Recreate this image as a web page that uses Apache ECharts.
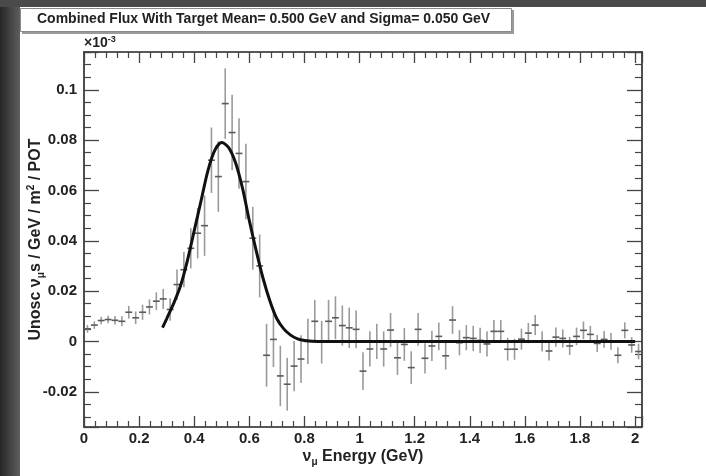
<!DOCTYPE html>
<html>
<head>
<meta charset="utf-8">
<title>Combined Flux</title>
<script src="https://cdn.jsdelivr.net/npm/echarts@6/dist/echarts.min.js"></script>
<style>
    html, body { margin: 0; padding: 0; background: #ffffff; }
    #flux-chart { width: 706px; height: 476px; }
</style>
</head>
<body>
<div id="flux-chart"></div>
<script>
// histogram binning (GeV)
var binStart = 0;
var binWidth = 0.025;

// measured flux per bin (x10^-3 units as drawn on the axis)
var fluxValues = [
    0.005, 0.0065, 0.0083, 0.0087, 0.0084, 0.008, 0.0116, 0.0094, 0.0116, 0.0137,
    0.016, 0.0169, 0.0127, 0.0226, 0.0285, 0.037, 0.043, 0.046, 0.072, 0.0655,
    0.0945, 0.083, 0.0747, 0.0635, 0.041, 0.030, -0.0055, 0.0008, -0.0137, -0.017,
    -0.0098, -0.007, 0.0, 0.008, -0.0003, 0.008, 0.0094, 0.0063, 0.0054, 0.0048,
    -0.0118, -0.003, 0.0, -0.003, 0.0045, -0.0065, -0.0012, -0.0104, 0.0048, -0.0067,
    -0.0018, 0.002, -0.0057, 0.0085, -0.0005, 0.0015, 0.0012, 0.0004, -0.001, 0.004,
    0.004, -0.0031, -0.0031, 0.0009, 0.0033, 0.0065, 0.0, -0.0038, 0.0017, 0.0012,
    -0.0018, 0.002, 0.0044, 0.0028, -0.0008, 0.0008, 0.0, -0.0055, 0.0044, -0.0014,
    -0.004
];

// half length of the error bar per bin
var fluxErrors = [
    0.0015, 0.0015, 0.0015, 0.0015, 0.0017, 0.002, 0.0025, 0.0025, 0.003, 0.003,
    0.0035, 0.004, 0.0045, 0.006, 0.007, 0.008, 0.010, 0.012, 0.013, 0.014,
    0.014, 0.015, 0.014, 0.015, 0.0125, 0.0125, 0.0125, 0.011, 0.012, 0.0105,
    0.010, 0.0095, 0.009, 0.0085, 0.0085, 0.0085, 0.0085, 0.008, 0.008, 0.0075,
    0.0075, 0.007, 0.007, 0.007, 0.0068, 0.0068, 0.0065, 0.0065, 0.0065, 0.006,
    0.006, 0.0055, 0.0055, 0.0055, 0.005, 0.005, 0.005, 0.005, 0.005, 0.0045,
    0.0045, 0.0045, 0.0042, 0.0042, 0.004, 0.004, 0.004, 0.0038, 0.0038, 0.0036,
    0.0036, 0.0035, 0.0035, 0.0034, 0.0034, 0.0033, 0.0033, 0.0032, 0.0032, 0.0031,
    0.0031
];

// fitted curve
var fitX = [0.285, 0.30, 0.325, 0.35, 0.375, 0.40, 0.425, 0.45, 0.475, 0.50,
    0.525, 0.55, 0.575, 0.60, 0.625, 0.65, 0.675, 0.70, 0.725, 0.75,
    0.775, 0.80, 0.85, 1.0, 1.5, 2.0];
var fitY = [0.0055, 0.009, 0.015, 0.022, 0.032, 0.044, 0.056, 0.068, 0.076, 0.079,
    0.077, 0.071, 0.061, 0.048, 0.036, 0.025, 0.016, 0.009, 0.005, 0.0025,
    0.001, 0.0004, 0.0, 0.0, 0.0, 0.0];

var xTickStep = 0.2;
var xMax = 2.025;
var yMin = -0.034;
var yMax = 0.115;

var pointData = [];
for (var i = 0; i < fluxValues.length; i++) {
    pointData.push([binStart + binWidth * (i + 0.5), fluxValues[i], fluxErrors[i]]);
}
var fitData = [];
for (var j = 0; j < fitX.length; j++) {
    fitData.push([fitX[j], fitY[j]]);
}

var fluxDiv = document.getElementById('flux-chart');
var fluxChart = echarts.init(fluxDiv, null, { renderer: 'canvas' });

var labelFont = {
    fontFamily: 'Liberation Sans',
    fontWeight: 'bold',
    fontSize: 15,
    color: '#222'
};

function renderErrorBar(params, api) {
    var x = api.value(0);
    var y = api.value(1);
    var e = api.value(2);
    var lo = api.coord([x, y - e]);
    var hi = api.coord([x, y + e]);
    var l = api.coord([x - binWidth / 2, y]);
    var r = api.coord([x + binWidth / 2, y]);
    return {
        type: 'group',
        children: [{
                type: 'line',
                shape: { x1: lo[0], y1: lo[1], x2: hi[0], y2: hi[1] },
                style: { stroke: '#9a9a9a', lineWidth: 1.6 }
            },
            {
                type: 'line',
                shape: { x1: l[0], y1: l[1], x2: r[0], y2: r[1] },
                style: { stroke: '#5a5a5a', lineWidth: 1.6 }
            }
        ]
    };
}

function xAxisCfg(pos, withLabels) {
    return {
        type: 'value',
        position: pos,
        min: 0,
        max: xMax,
        interval: xTickStep,
        axisLine: { show: true, onZero: false, lineStyle: { color: '#222', width: 1.6 } },
        axisTick: { show: true, inside: true, length: 11, lineStyle: { color: '#444', width: 1.3 } },
        minorTick: { show: true, splitNumber: 5, length: 6, lineStyle: { color: '#444', width: 1.2 } },
        splitLine: { show: false },
        axisLabel: Object.assign({ show: withLabels, margin: 4, showMaxLabel: false }, labelFont)
    };
}

function yAxisCfg(pos, withLabels) {
    return {
        type: 'value',
        position: pos,
        min: yMin,
        max: yMax,
        splitNumber: 7,
        axisLine: { show: true, onZero: false, lineStyle: { color: '#222', width: 1.6 } },
        axisTick: { show: true, inside: true, length: 15, lineStyle: { color: '#444', width: 1.3 } },
        minorTick: { show: true, splitNumber: 4, length: 7, lineStyle: { color: '#444', width: 1.2 } },
        splitLine: { show: false },
        axisLabel: Object.assign({ show: withLabels, margin: 7, showMinLabel: false, showMaxLabel: false }, labelFont)
    };
}

var xBottom = xAxisCfg('bottom', true);
xBottom.name = '{n|ν}{sub|μ}{n| Energy (GeV)}';
xBottom.nameLocation = 'middle';
xBottom.nameGap = 20;
xBottom.nameMoveOverlap = false;
xBottom.nameTextStyle = {
    rich: {
        n: { fontFamily: 'Liberation Sans', fontWeight: 'bold', fontSize: 16, color: '#222', lineHeight: 20 },
        sub: { fontFamily: 'Liberation Sans', fontWeight: 'bold', fontSize: 10, color: '#222', lineHeight: 20, verticalAlign: 'bottom' }
    }
};

var yLeft = yAxisCfg('left', true);
yLeft.name = '{n|Unosc ν}{sub|μ}{n|s / GeV / m}{sup|2}{n| / POT}';
yLeft.nameLocation = 'middle';
yLeft.nameGap = 38;
yLeft.nameRotate = 90;
yLeft.nameMoveOverlap = false;
yLeft.nameTextStyle = {
    rich: {
        n: { fontFamily: 'Liberation Sans', fontWeight: 'bold', fontSize: 16, color: '#222', lineHeight: 20 },
        sub: { fontFamily: 'Liberation Sans', fontWeight: 'bold', fontSize: 10, color: '#222', lineHeight: 20, verticalAlign: 'bottom' },
        sup: { fontFamily: 'Liberation Sans', fontWeight: 'bold', fontSize: 10, color: '#222', lineHeight: 20, verticalAlign: 'top' }
    }
};

var fluxOption = {
    animation: false,
    backgroundColor: '#ffffff',
    grid: { left: 84, right: 64, top: 52, bottom: 49, outerBoundsMode: 'none', containLabel: false },
    xAxis: [xBottom, xAxisCfg('top', false)],
    yAxis: [yLeft, yAxisCfg('right', false)],
    graphic: [{
            // dark slide border on the left and top
            type: 'rect',
            left: 0,
            top: 0,
            shape: { width: 20, height: 476 },
            style: {
                fill: new echarts.graphic.LinearGradient(0, 0, 1, 0, [
                    { offset: 0, color: '#262626' },
                    { offset: 1, color: '#5e5e5e' }
                ])
            },
            z: 10
        },
        {
            type: 'rect',
            left: 0,
            top: 0,
            shape: { width: 706, height: 7 },
            style: { fill: '#4a4a4a' },
            z: 10
        },
        {
            // title pave with shadow
            type: 'rect',
            left: 22,
            top: 10,
            shape: { width: 492, height: 24 },
            style: { fill: '#9a9a9a' },
            z: 10
        },
        {
            type: 'rect',
            left: 20,
            top: 8,
            shape: { width: 491, height: 23 },
            style: { fill: '#ffffff', stroke: '#8a8a8a', lineWidth: 1 },
            z: 11
        },
        {
            type: 'text',
            left: 37,
            top: 12,
            style: {
                text: 'Combined Flux With Target Mean= 0.500 GeV and Sigma= 0.050 GeV',
                fontFamily: 'Liberation Sans',
                fontWeight: 'bold',
                fontSize: 14,
                fill: '#222'
            },
            z: 12
        },
        {
            type: 'text',
            left: 84,
            top: 35,
            style: {
                text: '{a|×10}{b|-3}',
                rich: {
                    a: { fontFamily: 'Liberation Sans', fontWeight: 'bold', fontSize: 14, fill: '#222', lineHeight: 16 },
                    b: { fontFamily: 'Liberation Sans', fontWeight: 'bold', fontSize: 9, fill: '#222', lineHeight: 16, verticalAlign: 'top' }
                }
            },
            z: 12
        }
    ],
    series: [{
            name: 'Flux',
            type: 'custom',
            renderItem: renderErrorBar,
            clip: true,
            encode: { x: 0, y: 1 },
            data: pointData,
            z: 2
        },
        {
            name: 'Fit',
            type: 'line',
            data: fitData,
            smooth: 0.3,
            symbol: 'none',
            lineStyle: { color: '#111', width: 3 },
            z: 3
        }
    ]
};

fluxChart.setOption(fluxOption);

window.addEventListener('resize', function() {
    setTimeout(function() {
        fluxChart.resize();
    }, 200);
});
</script>
</body>
</html>
